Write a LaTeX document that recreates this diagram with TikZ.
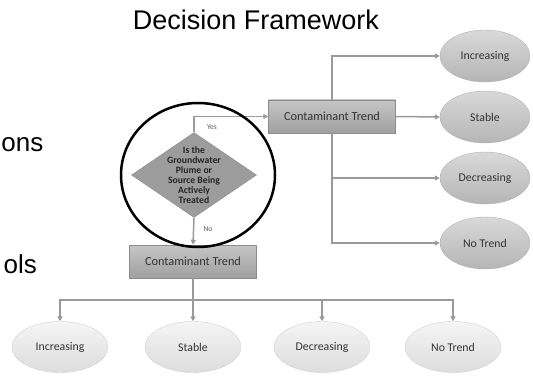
\documentclass[tikz,border=0pt]{standalone}
\usepackage{fontspec}
\setmainfont{Liberation Sans}
\newfontfamily\calfont{Carlito}
\usetikzlibrary{shapes.geometric,arrows.meta}
\definecolor{linegray}{HTML}{9A9A9A}
\definecolor{edgegray}{HTML}{8C8C8C}
\begin{document}
\begin{tikzpicture}[
  x=1pt, y=-1pt,
  trendbox/.style={rectangle, draw=edgegray, top color=gray!45, bottom color=gray!75,
    minimum width=127pt, minimum height=33pt, inner sep=0pt,
    font=\calfont\fontsize{12.3}{13}\selectfont, text=black!80},
  question/.style={diamond, draw=edgegray, fill=gray!78, minimum width=125pt,
    minimum height=85pt, inner sep=0pt},
  darkoval/.style={ellipse, draw=gray!60, top color=gray!30, bottom color=gray!58,
    minimum width=90pt, minimum height=52pt, inner sep=0pt,
    font=\calfont\fontsize{11.8}{12}\selectfont, text=black!80},
  lightoval/.style={ellipse, draw=gray!35, top color=gray!8, bottom color=gray!27,
    minimum width=96pt, minimum height=51pt, inner sep=0pt,
    font=\calfont\fontsize{11.8}{12}\selectfont, text=black!80},
  conn/.style={draw=linegray, line width=1.5pt, -{Triangle[length=5pt,width=5pt]}},
  tag/.style={font=\calfont\fontsize{7.5}{8}\selectfont, text=black!65},
  side/.style={font=\fontsize{26}{30}\selectfont, anchor=base east, inner sep=0pt}
]
\useasboundingbox (0,0) rectangle (533,377);

% Title and cut side words
\node[font=\fontsize{27}{30}\selectfont, anchor=base] (title) at (256,30) {Decision Framework};
\node[side] (ons) at (43.5,152) {ons};
\node[side] (ols) at (37,273) {ols};

% Question
\node[question] (q) at (194,175) {};
\node[font=\calfont\bfseries\fontsize{9.7}{10}\selectfont, align=center, text=black!85]
  (qtext) at (q.center) {Is the\\Groundwater\\Plume or\\Source Being\\Actively\\Treated};

% Trend boxes
\node[trendbox] (ctop) at (332,116.5) {Contaminant Trend};
\node[trendbox] (cbot) at (193,261.5) {Contaminant Trend};

\draw[conn] (q.north) |- (ctop.west);
\draw[conn] (q.south) -- (cbot.north);
\node[tag] (yes) at (212,127) {Yes};
\node[tag] (no) at (208,229) {No};

% Right outcomes (treated)
\node[darkoval] (r1) at (485,56) {Increasing};
\node[darkoval] (r2) at (485,117) {Stable};
\node[darkoval] (r3) at (485,178) {Decreasing};
\node[darkoval] (r4) at (485,243) {No Trend};

\draw[conn] (ctop.north) |- (r1.west);
\draw[conn] (ctop.east) -- (r2.west);
\draw[conn] (ctop.south) |- (r3.west);
\draw[conn] (ctop.south) |- (r4.west);

% Bottom outcomes (not treated)
\node[lightoval] (b1) at (60,347) {Increasing};
\node[lightoval] (b2) at (193,347) {Stable};
\node[lightoval] (b3) at (322,347) {Decreasing};
\node[lightoval] (b4) at (453,347) {No Trend};

\foreach \k in {b1,b2,b3,b4}
  \draw[conn] (cbot.south) -- ++(0,22) -| (\k.north);

% Highlight ring
\draw[line width=2.5pt] (198,175) ellipse [x radius=77, y radius=72];

\end{tikzpicture}
\end{document}
